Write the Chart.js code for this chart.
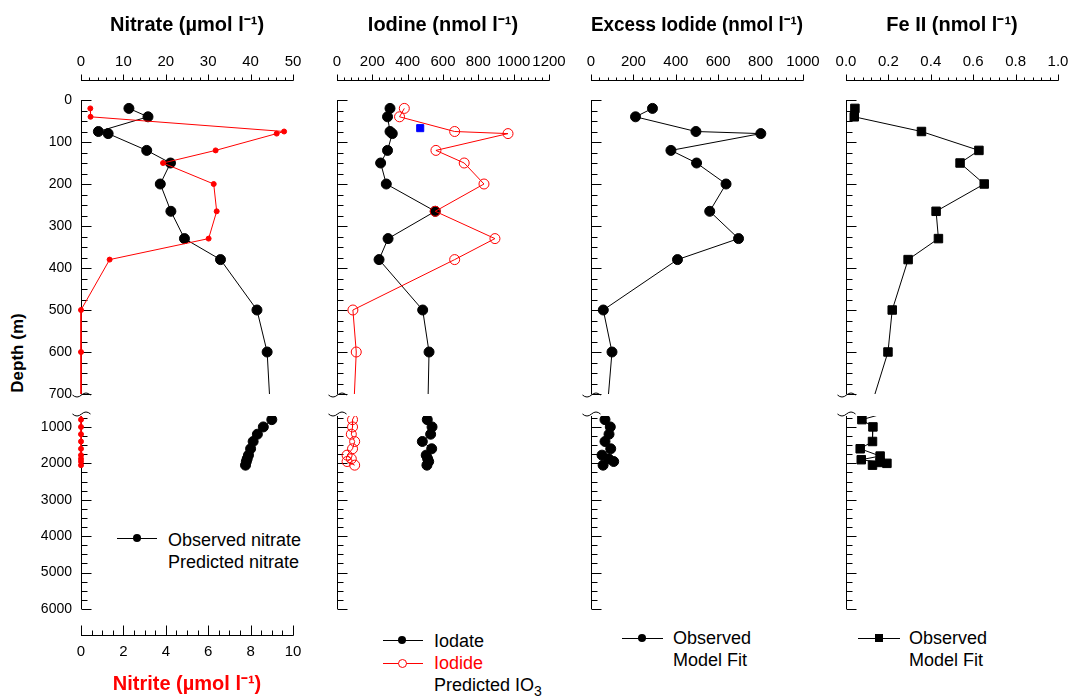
<!DOCTYPE html>
<html>
<head>
<meta charset="utf-8">
<script src="https://cdn.jsdelivr.net/npm/chart.js@4.4.1/dist/chart.umd.min.js"></script>
<style>
  body { margin: 0; width: 1070px; height: 696px; position: relative; overflow: hidden; background: #fff;
         font-family: 'Liberation Sans', Arial, Helvetica, sans-serif; }
  canvas { position: absolute; }
  .txt { position: absolute; font-size: 18px; line-height: 22px; white-space: nowrap; color: #000; }
  .key { position: absolute; height: 1px; }
  .mk { position: absolute; box-sizing: border-box; }
  #depth { position: absolute; left: 18px; top: 353px; font-weight: bold; font-size: 17px; white-space: nowrap;
           transform: translate(-50%, -50%) rotate(-90deg); }
</style>
</head>
<body>
<div id="depth">Depth (m)</div>

<!-- nitrate legend -->
<div class="key" style="left:117px;top:538px;width:40px;background:#000"></div>
<div class="mk" style="left:133px;top:534px;width:8px;height:8px;border-radius:50%;background:#000"></div>
<div class="txt" style="left:168px;top:529px">Observed nitrate</div>
<div class="txt" style="left:168px;top:551px">Predicted nitrate</div>

<!-- iodine legend -->
<div class="key" style="left:383px;top:640px;width:40px;background:#000"></div>
<div class="mk" style="left:398px;top:636px;width:8px;height:8px;border-radius:50%;background:#000"></div>
<div class="txt" style="left:434px;top:630px">Iodate</div>
<div class="key" style="left:383px;top:663px;width:40px;background:#ff0000"></div>
<div class="mk" style="left:398px;top:659px;width:9px;height:9px;border-radius:50%;background:#fff;border:1px solid #ff0000"></div>
<div class="txt" style="left:434px;top:652px;color:#ff0000">Iodide</div>
<div class="txt" style="left:434px;top:674px">Predicted IO<sub style="font-size:14px;vertical-align:-5px;line-height:0">3</sub></div>

<!-- excess iodide legend -->
<div class="key" style="left:622px;top:638px;width:41px;background:#000"></div>
<div class="mk" style="left:638px;top:634px;width:8px;height:8px;border-radius:50%;background:#000"></div>
<div class="txt" style="left:673px;top:627px">Observed</div>
<div class="txt" style="left:673px;top:649px">Model Fit</div>

<!-- Fe II legend -->
<div class="key" style="left:858px;top:638px;width:42px;background:#000"></div>
<div class="mk" style="left:875px;top:634px;width:8px;height:8px;background:#000"></div>
<div class="txt" style="left:909px;top:627px">Observed</div>
<div class="txt" style="left:909px;top:649px">Model Fit</div>

<script>
// depths (m) shared by the nitrate / iodine / excess iodide casts
const depthUpper = [20, 40, 75, 80, 120, 150, 200, 265, 330, 380, 500, 600];
const depthDeep = [800, 1000, 1200, 1400, 1600, 1775, 1875, 1950, 2050];
const depths = depthUpper.concat(depthDeep);

const nitrateObs = [11.3, 15.8, 4.1, 6.4, 15.5, 21.1, 18.7, 21.2, 24.4, 32.9, 41.5, 43.9,
                    45.0, 43.0, 41.6, 40.6, 40.0, 39.5, 39.2, 39.0, 38.8];
const nitrite = [0.44, 0.45, 9.58, 9.23, 6.35, 3.87, 6.26, 6.40, 6.02, 1.35, 0, 0,
                 0, 0, 0, 0, 0, 0, 0, 0, 0];
const iodate = [300, 286, 300, 313, 286, 247, 279, 556, 289, 238, 485, 521,
                511, 538, 530, 483, 536, 505, 513, 519, 509];
const iodide = [381, 354, 666, 968, 560, 720, 832, 556, 894, 666, 90, 109,
                88, 88, 81, 100, 88, 57, 81, 57, 100];
const excessIodide = [290, 210, 495, 801, 377, 498, 637, 560, 696, 408, 58, 99,
                      66, 91, 85, 66, 93, 52, 83, 107, 57];
const predDepth = [67];
const predIO3 = [471];

const feDepth = [20, 40, 75, 120, 150, 200, 265, 330, 380, 500, 600,
                 800, 1000, 1400, 1600, 1800, 1900, 1975, 2000, 2050];
const feII = [0.042, 0.039, 0.356, 0.627, 0.538, 0.652, 0.425, 0.436, 0.293, 0.218, 0.198,
              0.075, 0.127, 0.125, 0.067, 0.161, 0.072, 0.161, 0.193, 0.125];

// tick labels
const depthTicksUpper = [0, 100, 200, 300, 400, 500, 600, 700];
const depthTicksDeep = [1000, 2000, 3000, 4000, 5000, 6000];
const nitrateTicks = [0, 10, 20, 30, 40, 50];
const nitriteTicks = [0, 2, 4, 6, 8, 10];
const iodineTicks = [0, 200, 400, 600, 800, 1000, 1200];
const excessTicks = [0, 200, 400, 600, 800, 1000];
const feTicks = [0, 0.2, 0.4, 0.6, 0.8, 1.0];

const RED = '#ff0000';
const BLUE = '#0000ff';
const PLOT_W = 212;
const RIGHT_PAD = 24;

Chart.defaults.font.family = "'Liberation Sans', Arial, Helvetica, sans-serif";
Chart.defaults.color = '#000';

function series(d, vals) {
    return vals.map((v, i) => ({x: v, y: d[i]}));
}

function fixedTicks(list) {
    return function (scale) { scale.ticks = list.map(v => ({value: v})); };
}

// hide markers that fall outside this segment of the broken depth axis
function radiusIn(lo, hi, r) {
    return ctx => (ctx.raw && ctx.raw.y >= lo && ctx.raw.y <= hi) ? r : 0;
}

// axis lines, minor/major ticks and break marks
function axisMarks(specs) {
    return {
        id: 'axisMarks',
        beforeDatasetsDraw(chart) {
            const ctx = chart.ctx;
            ctx.save();
            ctx.strokeStyle = '#000';
            ctx.lineWidth = 1;
            specs.forEach(s => {
                const sc = chart.scales[s.scale];
                const n0 = Math.ceil(s.from / s.minor - 1e-6);
                const n1 = Math.floor(s.to / s.minor + 1e-6);
                ctx.beginPath();
                if (s.vertical) {
                    const x = chart.chartArea.left + 0.5;
                    ctx.moveTo(x, sc.getPixelForValue(s.from));
                    ctx.lineTo(x, sc.getPixelForValue(s.to));
                    for (let n = n0; n <= n1; n++) {
                        const v = n * s.minor;
                        const major = Math.abs(v / s.major - Math.round(v / s.major)) < 1e-6;
                        const y = Math.round(sc.getPixelForValue(v)) + 0.5;
                        ctx.moveTo(x, y);
                        ctx.lineTo(x + (major ? 10 : 6), y);
                    }
                    const yb = sc.getPixelForValue(s.breakAt) + s.breakShift;
                    ctx.moveTo(x - 9, yb);
                    ctx.quadraticCurveTo(x - 4.5, yb + 4, x, yb);
                    ctx.quadraticCurveTo(x + 4.5, yb - 4, x + 9, yb);
                } else {
                    const y = s.at;
                    ctx.moveTo(sc.getPixelForValue(s.from), y);
                    ctx.lineTo(sc.getPixelForValue(s.to) + 0.5, y);
                    for (let n = n0; n <= n1; n++) {
                        const v = n * s.minor;
                        const major = Math.abs(v / s.major - Math.round(v / s.major)) < 1e-6;
                        const x = Math.round(sc.getPixelForValue(v)) + 0.5;
                        ctx.moveTo(x, y);
                        ctx.lineTo(x, y - (major ? s.majorLen : s.minorLen));
                    }
                }
                ctx.stroke();
            });
            ctx.restore();
        }
    };
}

// tick marks are drawn by axisMarks; the hidden tickLength only sets the label gap
function xScale(ax, position, shown) {
    const isTop = position === 'top';
    return {
        type: 'linear',
        position: position,
        display: shown,
        min: ax.ticks[0],
        max: ax.ticks[ax.ticks.length - 1],
        afterBuildTicks: fixedTicks(ax.ticks),
        afterFit: s => { if (shown) s.height = isTop ? 100 : 87; },
        grid: {display: false, drawTicks: true, tickLength: isTop ? 29 : 34},
        border: {display: false},
        ticks: {
            padding: 0,
            font: {size: 15},
            autoSkip: false,
            minRotation: 0,
            maxRotation: 0,
            callback: ax.fmt || (v => String(v))
        },
        title: {
            display: true,
            text: ax.title,
            color: ax.color || '#000',
            font: {size: 20, weight: 'bold'},
            padding: isTop ? {top: 13, bottom: 0} : {top: 0, bottom: 0}
        }
    };
}

const panels = [
    {
        areaLeft: 81, axisW: 81, depthLabels: true,
        top: {title: 'Nitrate (µmol l⁻¹)', ticks: nitrateTicks, minor: 2},
        bottom: {title: 'Nitrite (µmol l⁻¹)', ticks: nitriteTicks, minor: 0.5, color: RED},
        series: [
            {label: 'Nitrite', depth: depths, values: nitrite, axis: 'x2', color: RED, fill: RED, r: 2.5},
            {label: 'Observed nitrate', depth: depths, values: nitrateObs, color: '#000', fill: '#000', r: 5}
        ]
    },
    {
        areaLeft: 337, axisW: 20,
        top: {title: 'Iodine (nmol l⁻¹)', ticks: iodineTicks, minor: 40},
        series: [
            {label: 'IO3 point', depth: predDepth, values: predIO3, color: BLUE, fill: BLUE, r: 5, style: 'rect', line: false},
            {label: 'Iodide', depth: depths, values: iodide, color: RED, fill: 'rgba(0,0,0,0)', r: 5},
            {label: 'Iodate', depth: depths, values: iodate, color: '#000', fill: '#000', r: 5}
        ]
    },
    {
        areaLeft: 591, axisW: 20,
        top: {title: 'Excess Iodide (nmol l⁻¹)', ticks: excessTicks, minor: 40},
        series: [
            {label: 'Observed', depth: depths, values: excessIodide, color: '#000', fill: '#000', r: 5}
        ]
    },
    {
        areaLeft: 846, axisW: 20,
        top: {title: 'Fe II (nmol l⁻¹)', ticks: feTicks, minor: 0.04, fmt: v => v.toFixed(1)},
        series: [
            {label: 'Observed', depth: feDepth, values: feII, color: '#000', fill: '#000', r: 6, style: 'rect'}
        ]
    }
];

// the depth axis is broken at 700 m
const segments = [
    {upper: true, top: 0, height: 406, lo: 0, hi: 700, ticks: depthTicksUpper, major: 100, minor: 25, breakShift: 1},
    {upper: false, top: 406, height: 290, lo: 700, hi: 6000, ticks: depthTicksDeep, major: 1000, minor: 250, breakShift: -2}
];

panels.forEach(p => {
    segments.forEach(seg => {
        const canvas = document.createElement('canvas');
        canvas.width = p.axisW + PLOT_W + RIGHT_PAD;
        canvas.height = seg.height;
        canvas.style.left = (p.areaLeft - p.axisW) + 'px';
        canvas.style.top = seg.top + 'px';
        document.body.appendChild(canvas);

        const scales = {
            x: xScale(p.top, 'top', seg.upper),
            y: {
                type: 'linear',
                position: 'left',
                reverse: true,
                min: seg.lo,
                max: seg.hi,
                afterBuildTicks: fixedTicks(seg.ticks),
                afterFit: s => { s.width = p.axisW; },
                grid: {display: false, drawTicks: true, tickLength: 9},
                border: {display: false},
                ticks: {display: !!p.depthLabels, padding: 0, font: {size: 14}, callback: v => String(v)}
            }
        };
        if (p.bottom) scales.x2 = xScale(p.bottom, 'bottom', !seg.upper);

        const marks = [{scale: 'y', vertical: true, from: seg.lo, to: seg.hi, major: seg.major, minor: seg.minor,
                        breakAt: 700, breakShift: seg.breakShift}];
        if (seg.upper) {
            const t = p.top.ticks;
            marks.push({scale: 'x', at: 80.5, from: t[0], to: t[t.length - 1], major: t[1] - t[0], minor: p.top.minor,
                        majorLen: 6, minorLen: 3});
        } else if (p.bottom) {
            const t = p.bottom.ticks;
            marks.push({scale: 'x2', at: 635 - seg.top + 0.5, from: t[0], to: t[t.length - 1], major: t[1] - t[0],
                        minor: p.bottom.minor, majorLen: 10, minorLen: 5});
        }

        const datasets = p.series.map(s => ({
            label: s.label,
            data: series(s.depth, s.values),
            xAxisID: s.axis || 'x',
            yAxisID: 'y',
            showLine: s.line !== false,
            borderColor: s.color,
            backgroundColor: s.fill,
            borderWidth: 1,
            pointStyle: s.style || 'circle',
            pointRadius: radiusIn(seg.lo, seg.hi, s.r),
            pointBorderColor: s.color,
            pointBackgroundColor: s.fill,
            pointBorderWidth: 1,
            tension: 0,
            clip: {left: 12, right: 12, top: 0, bottom: 0}
        }));

        new Chart(canvas, {
            type: 'scatter',
            data: {datasets: datasets},
            plugins: [axisMarks(marks)],
            options: {
                responsive: false,
                animation: false,
                devicePixelRatio: 1,
                events: [],
                layout: {
                    padding: {
                        left: 0,
                        right: RIGHT_PAD,
                        top: seg.upper ? 0 : 10,
                        bottom: seg.upper ? 12 : (p.bottom ? 0 : 87)
                    }
                },
                scales: scales,
                plugins: {
                    legend: {display: false},
                    tooltip: {enabled: false}
                }
            }
        });
    });
});
</script>
</body>
</html>
